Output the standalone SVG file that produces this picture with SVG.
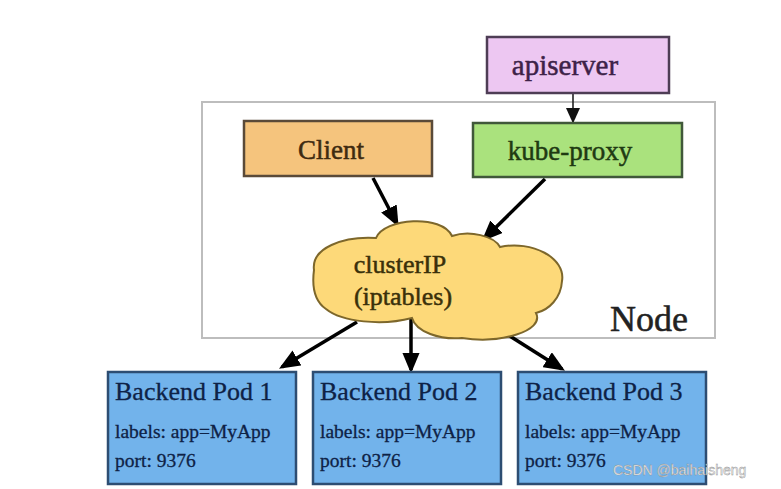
<svg xmlns="http://www.w3.org/2000/svg" width="781" height="489" viewBox="0 0 781 489">
<defs>
<style>
.t{font-family:"Liberation Serif","Times New Roman",serif;stroke-width:0.5;}
.box{stroke-width:2.5;}
.arr{stroke:#000;stroke-width:3.5;fill:none;marker-end:url(#ah);}
.arrs{stroke:#222;stroke-width:1.6;fill:none;marker-end:url(#ahs);}
.pod{fill:#72b3eb;stroke:#2d4d72;stroke-width:2.5;}
.podt{font-family:"Liberation Serif","Times New Roman",serif;fill:#0e2246;stroke:#0e2246;stroke-width:0.3;}
</style>
<marker id="ah" markerWidth="6" markerHeight="5" refX="5" refY="2.5" orient="auto" markerUnits="strokeWidth">
<path d="M0,0 L6,2.5 L0,5 Z" fill="#000"/>
</marker>
<marker id="ahs" markerWidth="10" markerHeight="9" refX="9" refY="4.5" orient="auto" markerUnits="strokeWidth">
<path d="M0,0 L10,4.5 L0,9 Z" fill="#111"/>
</marker>
</defs>
<rect width="781" height="489" fill="#ffffff"/>

<g id="node-frame">
<rect x="202" y="102" width="513" height="236" fill="none" stroke="#bdbdbd" stroke-width="2"/>
<text class="t" x="610" y="331" font-size="36" fill="#222" stroke="#222">Node</text>
</g>

<g id="connectors">
<line class="arrs" x1="573" y1="93" x2="573" y2="122"/>
<line class="arr" x1="373" y1="178" x2="397" y2="224"/>
<line class="arr" x1="545" y1="179" x2="484" y2="239"/>
<line class="arr" x1="357" y1="322" x2="282" y2="367"/>
<line class="arr" x1="411" y1="316" x2="411" y2="370"/>
<line class="arr" x1="505" y1="333" x2="562" y2="369"/>
</g>

<g id="apiserver">
<rect class="box" x="487" y="37" width="182" height="56" fill="#edc7f2" stroke="#4e3d55"/>
<text class="t" x="565" y="75" font-size="29" text-anchor="middle" fill="#3d2248" stroke="#3d2248">apiserver</text>
</g>

<g id="client">
<rect class="box" x="244" y="121" width="188" height="55" fill="#f5c47d" stroke="#5a4a38"/>
<text class="t" x="331" y="159" font-size="27" text-anchor="middle" fill="#3e2a10" stroke="#3e2a10">Client</text>
</g>

<g id="kube-proxy">
<rect class="box" x="473" y="123" width="209" height="54" fill="#aae27d" stroke="#40583a"/>
<text class="t" x="570" y="160" font-size="27" text-anchor="middle" fill="#1f3a12" stroke="#1f3a12">kube-proxy</text>
</g>

<g id="clusterip">
<path d="M314,270 C311,248 343,236 376,238 C384,218 442,214 452,236 C470,230 494,236 500,247 C532,240 566,258 562,281 C561,298 549,310 536,313 C545,331 500,344 462,338 C440,340 416,332 412,318 C382,326 342,322 326,309 C313,300 312,285 314,270 Z" fill="#fdd979" stroke="#7d672b" stroke-width="2"/>
<text class="t" x="400" y="273" font-size="26" text-anchor="middle" fill="#3a300a" stroke="#3a300a">clusterIP</text>
<text class="t" x="403" y="305" font-size="26" text-anchor="middle" fill="#3a300a" stroke="#3a300a">(iptables)</text>
</g>

<g id="pod1">
<rect class="pod" x="108" y="372" width="188" height="112"/>
<text class="podt" x="115" y="400" font-size="26">Backend Pod 1</text>
<text class="podt" x="115" y="438" font-size="19.5">labels: app=MyApp</text>
<text class="podt" x="115" y="467" font-size="19.5">port: 9376</text>
</g>

<g id="pod2">
<rect class="pod" x="313" y="372" width="188" height="112"/>
<text class="podt" x="320" y="400" font-size="26">Backend Pod 2</text>
<text class="podt" x="320" y="438" font-size="19.5">labels: app=MyApp</text>
<text class="podt" x="320" y="467" font-size="19.5">port: 9376</text>
</g>

<g id="pod3">
<rect class="pod" x="518" y="372" width="188" height="112"/>
<text class="podt" x="525" y="400" font-size="26">Backend Pod 3</text>
<text class="podt" x="525" y="438" font-size="19.5">labels: app=MyApp</text>
<text class="podt" x="525" y="467" font-size="19.5">port: 9376</text>
</g>

<text x="613" y="475" font-family="Liberation Sans, Arial, sans-serif" font-size="14" fill="#f4f4f4" stroke="#8a8a8a" stroke-width="0.4">CSDN @baihaisheng</text>
</svg>
